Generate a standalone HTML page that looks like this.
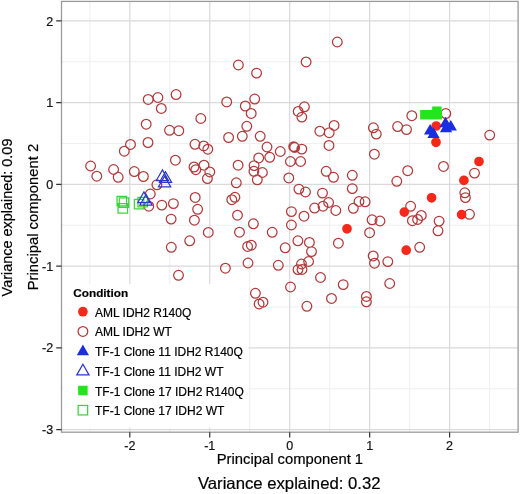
<!DOCTYPE html><html><head><meta charset="utf-8"><style>html,body{margin:0;padding:0;background:#fff}svg{display:block}text{font-family:"Liberation Sans",sans-serif;stroke:#000;stroke-width:0.2px;paint-order:stroke}svg{will-change:transform}</style></head><body>
<svg width="520" height="494" viewBox="0 0 520 494">
<rect width="520" height="494" fill="#fff"/>
<path d="M89.82,1.4V432.2M169.77,1.4V432.2M249.72,1.4V432.2M329.68,1.4V432.2M409.62,1.4V432.2M489.57,1.4V432.2M61.5,61.79H518.1M61.5,143.53H518.1M61.5,225.27H518.1M61.5,307.01H518.1M61.5,388.75H518.1" stroke="#f0f0f0" stroke-width="1.1" fill="none"/>
<path d="M129.80,1.4V432.2M209.75,1.4V432.2M289.70,1.4V432.2M369.65,1.4V432.2M449.60,1.4V432.2M61.5,20.92H518.1M61.5,102.66H518.1M61.5,184.40H518.1M61.5,266.14H518.1M61.5,347.88H518.1M61.5,429.62H518.1" stroke="#dadada" stroke-width="1.2" fill="none"/>
<path d="M143.35,99.40a4.85,4.85 0 1,0 9.7,0a4.85,4.85 0 1,0 -9.7,0M153.05,97.50a4.85,4.85 0 1,0 9.7,0a4.85,4.85 0 1,0 -9.7,0M171.25,94.60a4.85,4.85 0 1,0 9.7,0a4.85,4.85 0 1,0 -9.7,0M156.45,108.40a4.85,4.85 0 1,0 9.7,0a4.85,4.85 0 1,0 -9.7,0M141.35,124.20a4.85,4.85 0 1,0 9.7,0a4.85,4.85 0 1,0 -9.7,0M164.65,130.30a4.85,4.85 0 1,0 9.7,0a4.85,4.85 0 1,0 -9.7,0M173.95,130.70a4.85,4.85 0 1,0 9.7,0a4.85,4.85 0 1,0 -9.7,0M143.15,142.50a4.85,4.85 0 1,0 9.7,0a4.85,4.85 0 1,0 -9.7,0M125.65,144.40a4.85,4.85 0 1,0 9.7,0a4.85,4.85 0 1,0 -9.7,0M119.45,151.20a4.85,4.85 0 1,0 9.7,0a4.85,4.85 0 1,0 -9.7,0M170.55,160.20a4.85,4.85 0 1,0 9.7,0a4.85,4.85 0 1,0 -9.7,0M85.75,166.00a4.85,4.85 0 1,0 9.7,0a4.85,4.85 0 1,0 -9.7,0M91.95,176.20a4.85,4.85 0 1,0 9.7,0a4.85,4.85 0 1,0 -9.7,0M108.75,169.50a4.85,4.85 0 1,0 9.7,0a4.85,4.85 0 1,0 -9.7,0M113.35,177.30a4.85,4.85 0 1,0 9.7,0a4.85,4.85 0 1,0 -9.7,0M129.45,171.60a4.85,4.85 0 1,0 9.7,0a4.85,4.85 0 1,0 -9.7,0M138.55,176.50a4.85,4.85 0 1,0 9.7,0a4.85,4.85 0 1,0 -9.7,0M152.05,184.80a4.85,4.85 0 1,0 9.7,0a4.85,4.85 0 1,0 -9.7,0M145.45,194.00a4.85,4.85 0 1,0 9.7,0a4.85,4.85 0 1,0 -9.7,0M156.95,205.10a4.85,4.85 0 1,0 9.7,0a4.85,4.85 0 1,0 -9.7,0M168.55,203.60a4.85,4.85 0 1,0 9.7,0a4.85,4.85 0 1,0 -9.7,0M143.95,206.20a4.85,4.85 0 1,0 9.7,0a4.85,4.85 0 1,0 -9.7,0M233.55,65.00a4.85,4.85 0 1,0 9.7,0a4.85,4.85 0 1,0 -9.7,0M251.75,73.10a4.85,4.85 0 1,0 9.7,0a4.85,4.85 0 1,0 -9.7,0M221.85,101.90a4.85,4.85 0 1,0 9.7,0a4.85,4.85 0 1,0 -9.7,0M249.85,99.10a4.85,4.85 0 1,0 9.7,0a4.85,4.85 0 1,0 -9.7,0M240.45,106.00a4.85,4.85 0 1,0 9.7,0a4.85,4.85 0 1,0 -9.7,0M332.45,42.00a4.85,4.85 0 1,0 9.7,0a4.85,4.85 0 1,0 -9.7,0M301.25,61.90a4.85,4.85 0 1,0 9.7,0a4.85,4.85 0 1,0 -9.7,0M299.55,106.80a4.85,4.85 0 1,0 9.7,0a4.85,4.85 0 1,0 -9.7,0M195.95,118.50a4.85,4.85 0 1,0 9.7,0a4.85,4.85 0 1,0 -9.7,0M190.15,144.30a4.85,4.85 0 1,0 9.7,0a4.85,4.85 0 1,0 -9.7,0M198.85,145.90a4.85,4.85 0 1,0 9.7,0a4.85,4.85 0 1,0 -9.7,0M202.95,149.20a4.85,4.85 0 1,0 9.7,0a4.85,4.85 0 1,0 -9.7,0M246.35,113.40a4.85,4.85 0 1,0 9.7,0a4.85,4.85 0 1,0 -9.7,0M241.95,126.30a4.85,4.85 0 1,0 9.7,0a4.85,4.85 0 1,0 -9.7,0M223.75,137.50a4.85,4.85 0 1,0 9.7,0a4.85,4.85 0 1,0 -9.7,0M237.45,136.30a4.85,4.85 0 1,0 9.7,0a4.85,4.85 0 1,0 -9.7,0M255.35,136.30a4.85,4.85 0 1,0 9.7,0a4.85,4.85 0 1,0 -9.7,0M262.15,147.00a4.85,4.85 0 1,0 9.7,0a4.85,4.85 0 1,0 -9.7,0M189.15,167.00a4.85,4.85 0 1,0 9.7,0a4.85,4.85 0 1,0 -9.7,0M190.95,169.70a4.85,4.85 0 1,0 9.7,0a4.85,4.85 0 1,0 -9.7,0M199.15,165.20a4.85,4.85 0 1,0 9.7,0a4.85,4.85 0 1,0 -9.7,0M204.95,171.90a4.85,4.85 0 1,0 9.7,0a4.85,4.85 0 1,0 -9.7,0M202.55,178.60a4.85,4.85 0 1,0 9.7,0a4.85,4.85 0 1,0 -9.7,0M190.35,197.40a4.85,4.85 0 1,0 9.7,0a4.85,4.85 0 1,0 -9.7,0M192.75,209.30a4.85,4.85 0 1,0 9.7,0a4.85,4.85 0 1,0 -9.7,0M289.75,147.50a4.85,4.85 0 1,0 9.7,0a4.85,4.85 0 1,0 -9.7,0M233.25,165.20a4.85,4.85 0 1,0 9.7,0a4.85,4.85 0 1,0 -9.7,0M231.45,182.80a4.85,4.85 0 1,0 9.7,0a4.85,4.85 0 1,0 -9.7,0M230.05,197.30a4.85,4.85 0 1,0 9.7,0a4.85,4.85 0 1,0 -9.7,0M226.95,199.70a4.85,4.85 0 1,0 9.7,0a4.85,4.85 0 1,0 -9.7,0M253.85,157.90a4.85,4.85 0 1,0 9.7,0a4.85,4.85 0 1,0 -9.7,0M264.85,157.30a4.85,4.85 0 1,0 9.7,0a4.85,4.85 0 1,0 -9.7,0M249.25,165.60a4.85,4.85 0 1,0 9.7,0a4.85,4.85 0 1,0 -9.7,0M249.05,171.30a4.85,4.85 0 1,0 9.7,0a4.85,4.85 0 1,0 -9.7,0M257.55,172.50a4.85,4.85 0 1,0 9.7,0a4.85,4.85 0 1,0 -9.7,0M252.45,179.80a4.85,4.85 0 1,0 9.7,0a4.85,4.85 0 1,0 -9.7,0M293.35,111.40a4.85,4.85 0 1,0 9.7,0a4.85,4.85 0 1,0 -9.7,0M296.95,117.10a4.85,4.85 0 1,0 9.7,0a4.85,4.85 0 1,0 -9.7,0M314.95,131.20a4.85,4.85 0 1,0 9.7,0a4.85,4.85 0 1,0 -9.7,0M324.35,132.70a4.85,4.85 0 1,0 9.7,0a4.85,4.85 0 1,0 -9.7,0M324.15,145.40a4.85,4.85 0 1,0 9.7,0a4.85,4.85 0 1,0 -9.7,0M288.85,146.60a4.85,4.85 0 1,0 9.7,0a4.85,4.85 0 1,0 -9.7,0M296.95,149.10a4.85,4.85 0 1,0 9.7,0a4.85,4.85 0 1,0 -9.7,0M275.45,151.50a4.85,4.85 0 1,0 9.7,0a4.85,4.85 0 1,0 -9.7,0M285.55,161.50a4.85,4.85 0 1,0 9.7,0a4.85,4.85 0 1,0 -9.7,0M295.75,161.50a4.85,4.85 0 1,0 9.7,0a4.85,4.85 0 1,0 -9.7,0M321.35,171.30a4.85,4.85 0 1,0 9.7,0a4.85,4.85 0 1,0 -9.7,0M283.95,177.90a4.85,4.85 0 1,0 9.7,0a4.85,4.85 0 1,0 -9.7,0M294.05,189.10a4.85,4.85 0 1,0 9.7,0a4.85,4.85 0 1,0 -9.7,0M300.65,192.00a4.85,4.85 0 1,0 9.7,0a4.85,4.85 0 1,0 -9.7,0M317.65,193.10a4.85,4.85 0 1,0 9.7,0a4.85,4.85 0 1,0 -9.7,0M329.25,125.40a4.85,4.85 0 1,0 9.7,0a4.85,4.85 0 1,0 -9.7,0M368.55,127.80a4.85,4.85 0 1,0 9.7,0a4.85,4.85 0 1,0 -9.7,0M371.45,134.10a4.85,4.85 0 1,0 9.7,0a4.85,4.85 0 1,0 -9.7,0M369.55,154.20a4.85,4.85 0 1,0 9.7,0a4.85,4.85 0 1,0 -9.7,0M328.65,177.30a4.85,4.85 0 1,0 9.7,0a4.85,4.85 0 1,0 -9.7,0M347.45,175.30a4.85,4.85 0 1,0 9.7,0a4.85,4.85 0 1,0 -9.7,0M347.45,188.60a4.85,4.85 0 1,0 9.7,0a4.85,4.85 0 1,0 -9.7,0M323.75,202.50a4.85,4.85 0 1,0 9.7,0a4.85,4.85 0 1,0 -9.7,0M354.15,201.50a4.85,4.85 0 1,0 9.7,0a4.85,4.85 0 1,0 -9.7,0M360.25,201.80a4.85,4.85 0 1,0 9.7,0a4.85,4.85 0 1,0 -9.7,0M348.45,208.30a4.85,4.85 0 1,0 9.7,0a4.85,4.85 0 1,0 -9.7,0M330.95,210.50a4.85,4.85 0 1,0 9.7,0a4.85,4.85 0 1,0 -9.7,0M406.95,115.70a4.85,4.85 0 1,0 9.7,0a4.85,4.85 0 1,0 -9.7,0M392.75,126.60a4.85,4.85 0 1,0 9.7,0a4.85,4.85 0 1,0 -9.7,0M401.65,129.60a4.85,4.85 0 1,0 9.7,0a4.85,4.85 0 1,0 -9.7,0M440.95,113.60a4.85,4.85 0 1,0 9.7,0a4.85,4.85 0 1,0 -9.7,0M402.85,170.70a4.85,4.85 0 1,0 9.7,0a4.85,4.85 0 1,0 -9.7,0M391.95,181.30a4.85,4.85 0 1,0 9.7,0a4.85,4.85 0 1,0 -9.7,0M405.75,206.30a4.85,4.85 0 1,0 9.7,0a4.85,4.85 0 1,0 -9.7,0M484.85,135.10a4.85,4.85 0 1,0 9.7,0a4.85,4.85 0 1,0 -9.7,0M438.65,166.40a4.85,4.85 0 1,0 9.7,0a4.85,4.85 0 1,0 -9.7,0M469.65,173.10a4.85,4.85 0 1,0 9.7,0a4.85,4.85 0 1,0 -9.7,0M459.95,192.80a4.85,4.85 0 1,0 9.7,0a4.85,4.85 0 1,0 -9.7,0M460.55,197.60a4.85,4.85 0 1,0 9.7,0a4.85,4.85 0 1,0 -9.7,0M464.65,214.30a4.85,4.85 0 1,0 9.7,0a4.85,4.85 0 1,0 -9.7,0M407.55,220.70a4.85,4.85 0 1,0 9.7,0a4.85,4.85 0 1,0 -9.7,0M412.75,219.40a4.85,4.85 0 1,0 9.7,0a4.85,4.85 0 1,0 -9.7,0M416.45,215.40a4.85,4.85 0 1,0 9.7,0a4.85,4.85 0 1,0 -9.7,0M375.15,221.00a4.85,4.85 0 1,0 9.7,0a4.85,4.85 0 1,0 -9.7,0M367.25,219.80a4.85,4.85 0 1,0 9.7,0a4.85,4.85 0 1,0 -9.7,0M434.25,221.10a4.85,4.85 0 1,0 9.7,0a4.85,4.85 0 1,0 -9.7,0M433.15,230.80a4.85,4.85 0 1,0 9.7,0a4.85,4.85 0 1,0 -9.7,0M414.85,247.30a4.85,4.85 0 1,0 9.7,0a4.85,4.85 0 1,0 -9.7,0M382.95,261.60a4.85,4.85 0 1,0 9.7,0a4.85,4.85 0 1,0 -9.7,0M299.15,216.20a4.85,4.85 0 1,0 9.7,0a4.85,4.85 0 1,0 -9.7,0M309.75,208.10a4.85,4.85 0 1,0 9.7,0a4.85,4.85 0 1,0 -9.7,0M318.15,206.20a4.85,4.85 0 1,0 9.7,0a4.85,4.85 0 1,0 -9.7,0M364.75,232.70a4.85,4.85 0 1,0 9.7,0a4.85,4.85 0 1,0 -9.7,0M333.55,243.20a4.85,4.85 0 1,0 9.7,0a4.85,4.85 0 1,0 -9.7,0M304.55,242.40a4.85,4.85 0 1,0 9.7,0a4.85,4.85 0 1,0 -9.7,0M306.65,251.60a4.85,4.85 0 1,0 9.7,0a4.85,4.85 0 1,0 -9.7,0M303.75,261.50a4.85,4.85 0 1,0 9.7,0a4.85,4.85 0 1,0 -9.7,0M296.65,264.00a4.85,4.85 0 1,0 9.7,0a4.85,4.85 0 1,0 -9.7,0M293.15,269.60a4.85,4.85 0 1,0 9.7,0a4.85,4.85 0 1,0 -9.7,0M297.15,269.50a4.85,4.85 0 1,0 9.7,0a4.85,4.85 0 1,0 -9.7,0M368.35,255.90a4.85,4.85 0 1,0 9.7,0a4.85,4.85 0 1,0 -9.7,0M369.65,263.20a4.85,4.85 0 1,0 9.7,0a4.85,4.85 0 1,0 -9.7,0M315.65,277.50a4.85,4.85 0 1,0 9.7,0a4.85,4.85 0 1,0 -9.7,0M286.55,225.00a4.85,4.85 0 1,0 9.7,0a4.85,4.85 0 1,0 -9.7,0M286.55,211.60a4.85,4.85 0 1,0 9.7,0a4.85,4.85 0 1,0 -9.7,0M267.35,232.30a4.85,4.85 0 1,0 9.7,0a4.85,4.85 0 1,0 -9.7,0M293.05,240.80a4.85,4.85 0 1,0 9.7,0a4.85,4.85 0 1,0 -9.7,0M280.35,247.80a4.85,4.85 0 1,0 9.7,0a4.85,4.85 0 1,0 -9.7,0M273.45,265.30a4.85,4.85 0 1,0 9.7,0a4.85,4.85 0 1,0 -9.7,0M166.25,219.10a4.85,4.85 0 1,0 9.7,0a4.85,4.85 0 1,0 -9.7,0M189.55,220.20a4.85,4.85 0 1,0 9.7,0a4.85,4.85 0 1,0 -9.7,0M203.45,232.40a4.85,4.85 0 1,0 9.7,0a4.85,4.85 0 1,0 -9.7,0M184.85,240.80a4.85,4.85 0 1,0 9.7,0a4.85,4.85 0 1,0 -9.7,0M166.45,247.30a4.85,4.85 0 1,0 9.7,0a4.85,4.85 0 1,0 -9.7,0M173.65,275.30a4.85,4.85 0 1,0 9.7,0a4.85,4.85 0 1,0 -9.7,0M232.65,215.20a4.85,4.85 0 1,0 9.7,0a4.85,4.85 0 1,0 -9.7,0M248.55,223.80a4.85,4.85 0 1,0 9.7,0a4.85,4.85 0 1,0 -9.7,0M234.65,232.20a4.85,4.85 0 1,0 9.7,0a4.85,4.85 0 1,0 -9.7,0M242.75,246.50a4.85,4.85 0 1,0 9.7,0a4.85,4.85 0 1,0 -9.7,0M246.45,245.20a4.85,4.85 0 1,0 9.7,0a4.85,4.85 0 1,0 -9.7,0M243.15,263.00a4.85,4.85 0 1,0 9.7,0a4.85,4.85 0 1,0 -9.7,0M220.55,268.20a4.85,4.85 0 1,0 9.7,0a4.85,4.85 0 1,0 -9.7,0M285.65,287.00a4.85,4.85 0 1,0 9.7,0a4.85,4.85 0 1,0 -9.7,0M250.55,293.30a4.85,4.85 0 1,0 9.7,0a4.85,4.85 0 1,0 -9.7,0M254.25,303.90a4.85,4.85 0 1,0 9.7,0a4.85,4.85 0 1,0 -9.7,0M258.15,302.20a4.85,4.85 0 1,0 9.7,0a4.85,4.85 0 1,0 -9.7,0M302.05,306.30a4.85,4.85 0 1,0 9.7,0a4.85,4.85 0 1,0 -9.7,0M338.35,284.60a4.85,4.85 0 1,0 9.7,0a4.85,4.85 0 1,0 -9.7,0M326.65,298.40a4.85,4.85 0 1,0 9.7,0a4.85,4.85 0 1,0 -9.7,0M361.55,296.40a4.85,4.85 0 1,0 9.7,0a4.85,4.85 0 1,0 -9.7,0M361.55,301.80a4.85,4.85 0 1,0 9.7,0a4.85,4.85 0 1,0 -9.7,0M384.85,283.50a4.85,4.85 0 1,0 9.7,0a4.85,4.85 0 1,0 -9.7,0" fill="none" stroke="#b23a3c" stroke-width="1.25"/>
<path d="M431.35,126.00a4.85,4.85 0 1,0 9.7,0a4.85,4.85 0 1,0 -9.7,0M431.15,142.30a4.85,4.85 0 1,0 9.7,0a4.85,4.85 0 1,0 -9.7,0M426.75,197.80a4.85,4.85 0 1,0 9.7,0a4.85,4.85 0 1,0 -9.7,0M474.15,161.50a4.85,4.85 0 1,0 9.7,0a4.85,4.85 0 1,0 -9.7,0M459.05,180.40a4.85,4.85 0 1,0 9.7,0a4.85,4.85 0 1,0 -9.7,0M456.75,214.60a4.85,4.85 0 1,0 9.7,0a4.85,4.85 0 1,0 -9.7,0M399.45,212.10a4.85,4.85 0 1,0 9.7,0a4.85,4.85 0 1,0 -9.7,0M401.35,250.20a4.85,4.85 0 1,0 9.7,0a4.85,4.85 0 1,0 -9.7,0M342.15,228.80a4.85,4.85 0 1,0 9.7,0a4.85,4.85 0 1,0 -9.7,0" fill="#f5281a"/>
<path d="M117.05,196.30h9.5v9.5h-9.5ZM119.25,197.90h9.5v9.5h-9.5ZM118.05,203.70h9.5v9.5h-9.5ZM134.35,199.25h9.5v9.5h-9.5ZM137.95,197.45h9.5v9.5h-9.5Z" fill="none" stroke="#3cd43a" stroke-width="1.25"/>
<path d="M420.15,110.05h9.5v9.5h-9.5ZM425.85,110.05h9.5v9.5h-9.5ZM432.15,106.45h9.5v9.5h-9.5ZM432.55,110.05h9.5v9.5h-9.5Z" fill="#22e51c"/>
<path d="M162.40,169.90L168.50,180.50L156.30,180.50ZM165.50,171.70L171.60,182.30L159.40,182.30ZM164.60,176.20L170.70,186.80L158.50,186.80ZM143.90,191.90L150.00,202.50L137.80,202.50ZM146.00,194.40L152.10,205.00L139.90,205.00Z" fill="none" stroke="#2a36c8" stroke-width="1.25" stroke-linejoin="miter"/>
<path d="M430.10,124.00L436.20,134.60L424.00,134.60ZM433.50,127.30L439.60,137.90L427.40,137.90ZM445.50,116.70L451.60,127.30L439.40,127.30ZM450.80,120.00L456.90,130.60L444.70,130.60ZM446.00,121.60L452.10,132.20L439.90,132.20Z" fill="#1a2ee0"/>
<rect x="63" y="284" width="185.5" height="143.5" fill="#fff"/>
<text x="73.3" y="297.0" font-size="11.75" font-weight="bold" fill="#000">Condition</text>
<circle cx="82.9" cy="311.7" r="4.85" fill="#f5281a"/>
<circle cx="82.9" cy="331.4" r="4.85" fill="none" stroke="#b23a3c" stroke-width="1.25"/>
<path d="M82.90,344.60L89.00,355.20L76.80,355.20Z" fill="#1a2ee0"/>
<path d="M82.90,364.30L89.00,374.90L76.80,374.90Z" fill="none" stroke="#2a36c8" stroke-width="1.25"/>
<rect x="78.15" y="385.75" width="9.5" height="9.5" fill="#22e51c"/>
<rect x="78.15" y="405.45" width="9.5" height="9.5" fill="none" stroke="#3cd43a" stroke-width="1.25"/>
<text x="95.0" y="316.7" font-size="12" fill="#000">AML IDH2 R140Q</text>
<text x="95.0" y="336.4" font-size="12" fill="#000">AML IDH2 WT</text>
<text x="95.0" y="356.1" font-size="12" fill="#000">TF-1 Clone 11 IDH2 R140Q</text>
<text x="95.0" y="375.8" font-size="12" fill="#000">TF-1 Clone 11 IDH2 WT</text>
<text x="95.0" y="395.5" font-size="12" fill="#000">TF-1 Clone 17 IDH2 R140Q</text>
<text x="95.0" y="415.2" font-size="12" fill="#000">TF-1 Clone 17 IDH2 WT</text>
<rect x="61.5" y="1.4" width="456.6" height="430.8" fill="none" stroke="#9a9a9a" stroke-width="1.3"/>
<path d="M129.80,432.2V437.4M209.75,432.2V437.4M289.70,432.2V437.4M369.65,432.2V437.4M449.60,432.2V437.4M56.2,20.92H61.5M56.2,102.66H61.5M56.2,184.40H61.5M56.2,266.14H61.5M56.2,347.88H61.5M56.2,429.62H61.5" stroke="#333" stroke-width="1.2" fill="none"/>
<text x="53.2" y="25.52" font-size="12.5" text-anchor="end" fill="#111">2</text>
<text x="53.2" y="107.26" font-size="12.5" text-anchor="end" fill="#111">1</text>
<text x="53.2" y="189.00" font-size="12.5" text-anchor="end" fill="#111">0</text>
<text x="53.2" y="270.74" font-size="12.5" text-anchor="end" fill="#111">-1</text>
<text x="53.2" y="352.48" font-size="12.5" text-anchor="end" fill="#111">-2</text>
<text x="53.2" y="434.22" font-size="12.5" text-anchor="end" fill="#111">-3</text>
<text x="129.80" y="449.6" font-size="12.5" text-anchor="middle" fill="#111">-2</text>
<text x="209.75" y="449.6" font-size="12.5" text-anchor="middle" fill="#111">-1</text>
<text x="289.70" y="449.6" font-size="12.5" text-anchor="middle" fill="#111">0</text>
<text x="369.65" y="449.6" font-size="12.5" text-anchor="middle" fill="#111">1</text>
<text x="449.60" y="449.6" font-size="12.5" text-anchor="middle" fill="#111">2</text>
<text x="289.9" y="463.9" font-size="14.8" text-anchor="middle" fill="#000">Principal component 1</text>
<text x="289.2" y="488.7" font-size="16.72" text-anchor="middle" fill="#000">Variance explained: 0.32</text>
<text transform="translate(38.2,217.1) rotate(-90)" font-size="14.8" text-anchor="middle" fill="#000">Principal component 2</text>
<text transform="translate(12.0,217.5) rotate(-90)" font-size="14.45" text-anchor="middle" fill="#000">Variance explained: 0.09</text>
</svg></body></html>
